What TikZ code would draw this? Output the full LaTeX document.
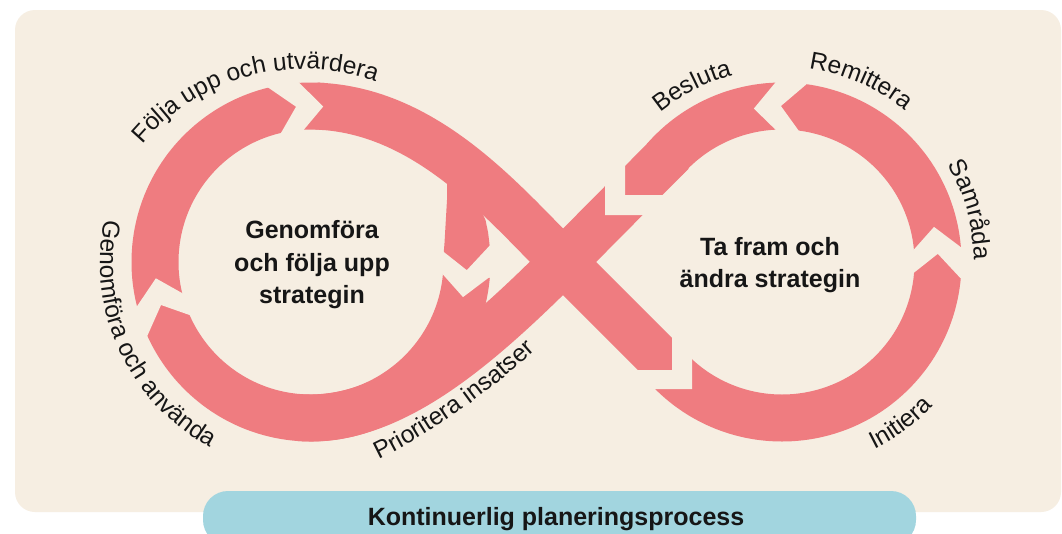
\documentclass[tikz,border=0pt]{standalone}
\usepackage{fontspec}
\setmainfont{Liberation Sans}
\usetikzlibrary{decorations.text}
\definecolor{bgbeige}{HTML}{F6EEE2}
\definecolor{pinkc}{HTML}{EF7C80}
\definecolor{pillc}{HTML}{A2D5DF}
\definecolor{txtc}{HTML}{161616}
\newcommand\lblfont{\fontsize{24.5}{28}\selectfont}
\newcommand\ctrfont{\fontsize{25}{30}\selectfont\bfseries}
\newcommand\ringgap[4]{%
  \fill[bgbeige] ({#1+184*cos(#3-(#4)*1.5)},{#2-184*sin(#3-(#4)*1.5)})
    -- ({#1+156*cos(#3+(#4)*8)},{#2-156*sin(#3+(#4)*8)})
    -- ({#1+128*cos(#3-(#4)*1.5)},{#2-128*sin(#3-(#4)*1.5)})
    -- ({#1+128*cos(#3+(#4)*8.5)},{#2-128*sin(#3+(#4)*8.5)})
    -- ({#1+156*cos(#3+(#4)*18)},{#2-156*sin(#3+(#4)*18)})
    -- ({#1+184*cos(#3+(#4)*8.5)},{#2-184*sin(#3+(#4)*8.5)})
    -- cycle;}
\begin{document}
\begin{tikzpicture}[x=1pt,y=-1pt,
  band/.style={draw=pinkc,line width=47pt},
  lbl/.style={decorate,decoration={text along path,text align=center,text color=txtc,text={|\lblfont|#1}}},
  ctext/.style={font=\ctrfont,text=txtc,inner sep=0pt,anchor=base}]
\useasboundingbox (0,0) rectangle (1062,533);
\clip (0,0) rectangle (1062,533);
\fill[white] (0,0) rectangle (1062,533);
\fill[bgbeige,rounded corners=20pt] (15,10) rectangle (1061,512);
\fill[pillc,rounded corners=25pt] (203,491) rectangle (916,545);
% rings
\draw[band] ({311+156*cos(85)},{262-156*sin(85)}) arc[start angle=-85,end angle=-355,radius=156];
\draw[band] ({782+156*cos(225)},{262-156*sin(225)}) arc[start angle=-225,end angle=-499,radius=156];
% crossing bands
\draw[band] ({311+156*cos(88)},{262-156*sin(88)}) .. controls (426.3,110) and (502.9,201.9) .. (563,262) -- (673,372);
\draw[band] (672,152) -- (563,262) .. controls (473,352) and (387,425) .. ({311+156*cos(-95)},{262-156*sin(-95)});
% tip on the right side of the left loop
\fill[pinkc] (447,178) -- (447,200) -- (444.5,243) -- (443,262) -- (467,278) -- (491,262) -- (490.1,250) -- (489,240) -- (488,232) -- (485.4,219.6) -- (478,205) -- cycle;
% gaps between arrows
\ringgap{311}{262}{103.5}{-1}
\ringgap{311}{262}{204}{-1}
\ringgap{311}{262}{5}{-1}
\ringgap{782}{262}{-5}{1}
\ringgap{782}{262}{82.4}{1}
\fill[bgbeige] (620,370) -- (672,370) -- (672,320) -- (692,320) -- (692,389) -- (620,389) -- cycle;
\fill[bgbeige] (605,140) -- (625,140) -- (625,195) -- (680,195) -- (680,215) -- (605,215) -- cycle;
% labels along the loops
\path[lbl={Följa upp och utvärdera}] ({304+212*cos(155)},{281-212*sin(155)}) arc[start angle=-155,end angle=-55,radius=212];
\path[lbl={Genomföra och använda}] ({311+211*cos(155)},{262-211*sin(155)}) arc[start angle=-155,end angle=-255,radius=211];
\path[lbl={Prioritera insatser}] (349.8,472.7) -- (377,460) .. controls (431.4,434.6) and (492.4,389.1) .. (537,349) -- (559.3,328.9);
\path[lbl={Besluta}] ({782+193*cos(147)},{262-193*sin(147)}) arc[start angle=-147,end angle=-87,radius=193];
\path[lbl={Remittera}] ({782+195*cos(106.5)},{262-195*sin(106.5)}) arc[start angle=-106.5,end angle=-26.5,radius=195];
\path[lbl={Samråda}] ({782+192*cos(55.5)},{262-192*sin(55.5)}) arc[start angle=-55.5,end angle=24.5,radius=192];
\path[lbl={Initiera}] ({782+209*cos(-93.7)},{262-209*sin(-93.7)}) arc[start angle=93.7,end angle=13.7,radius=209];
% centre texts
\node[ctext] (g1) at (312,238) {Genomföra};
\node[ctext] (g2) at (312,271) {och följa upp};
\node[ctext] (g3) at (312,303) {strategin};
\node[ctext] (t1) at (770,255) {Ta fram och};
\node[ctext] (t2) at (770,287) {ändra strategin};
\node[ctext] (kp) at (556,525) {Kontinuerlig planeringsprocess};
\end{tikzpicture}
\end{document}
